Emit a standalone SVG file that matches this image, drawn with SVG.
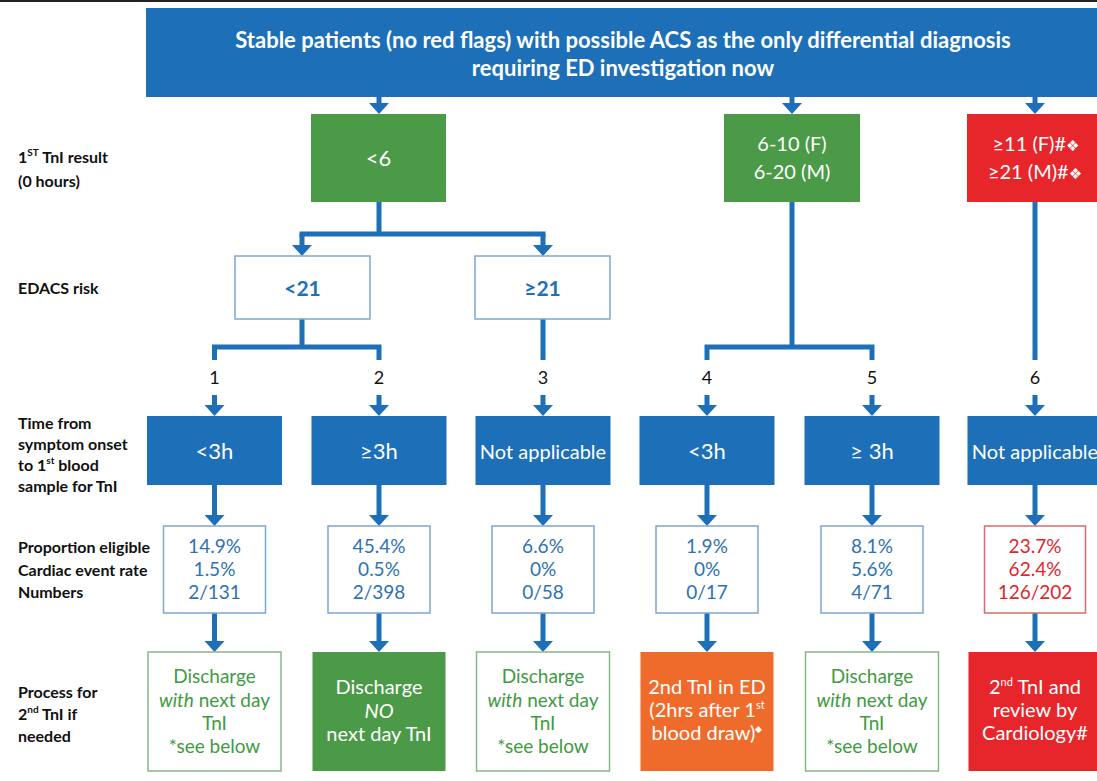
<svg xmlns="http://www.w3.org/2000/svg" width="1097" height="781" viewBox="0 0 1097 781">
  <style>
    .lbl { font-family: Lato, "Liberation Sans", sans-serif; font-weight: bold; font-size: 16px; fill: #111; }
    .num { font-family: Lato, "Liberation Sans", sans-serif; font-size: 18px; fill: #111; text-anchor: middle; }
    .wt { font-family: Lato, "Liberation Sans", sans-serif; font-size: 20px; fill: #fff; text-anchor: middle; }
    .bt { font-family: Lato, "Liberation Sans", sans-serif; font-size: 19px; fill: #2d72b5; text-anchor: middle; }
    .rt { font-family: Lato, "Liberation Sans", sans-serif; font-size: 19px; fill: #e0262b; text-anchor: middle; }
    .gt { font-family: Lato, "Liberation Sans", sans-serif; font-size: 19px; fill: #3f9a42; text-anchor: middle; }
    .head { font-family: Lato, "Liberation Sans", sans-serif; font-weight: bold; font-size: 22px; fill: #fff; text-anchor: middle; }
    .edacs { font-family: Lato, "Liberation Sans", sans-serif; font-weight: bold; font-size: 21px; fill: #1f70b8; text-anchor: middle; }
    .big { font-size: 22px; }
    .blue { fill: #1d6fb8; }
    .green { fill: #4b9a47; }
    .red { fill: #e6262b; }
    .orange { fill: #ef6b2c; }
    .outB { fill: #fff; stroke: #7ea6d2; stroke-width: 1.5; }
    .outG { fill: #fff; stroke: #86b886; stroke-width: 1.5; }
    .outR { fill: #fff; stroke: #dc6a6a; stroke-width: 1.5; }
    .wire { fill: none; stroke: #1d6fb8; stroke-width: 5; }
    .arr { fill: none; stroke: #1d6fb8; stroke-width: 5; marker-end: url(#head); }
  </style>
  <defs>
    <marker id="head" markerUnits="userSpaceOnUse" markerWidth="11" markerHeight="20" refX="0" refY="10" orient="auto">
      <path d="M0,0 L11,10 L0,20 z" fill="#1d6fb8"/>
    </marker>
  </defs>

  <rect width="1097" height="781" fill="#fff"/>
  <line x1="0" y1="1" x2="1097" y2="1" stroke="#222" stroke-width="2"/>

  <!-- row labels -->
  <g id="row-labels">
    <text class="lbl" x="18" y="163">1<tspan font-size="10" dy="-7">ST</tspan><tspan dy="7"> TnI result</tspan></text>
    <text class="lbl" x="18" y="187">(0 hours)</text>
    <text class="lbl" x="18" y="294">EDACS risk</text>
    <text class="lbl" x="18" y="429">Time from</text>
    <text class="lbl" x="18" y="450">symptom onset</text>
    <text class="lbl" x="18" y="471">to 1<tspan font-size="10" dy="-7">st</tspan><tspan dy="7"> blood</tspan></text>
    <text class="lbl" x="18" y="492">sample for TnI</text>
    <text class="lbl" x="18" y="553">Proportion eligible</text>
    <text class="lbl" x="18" y="576">Cardiac event rate</text>
    <text class="lbl" x="18" y="598">Numbers</text>
    <text class="lbl" x="18" y="698">Process for</text>
    <text class="lbl" x="18" y="720">2<tspan font-size="10" dy="-7">nd</tspan><tspan dy="7"> TnI if</tspan></text>
    <text class="lbl" x="18" y="742">needed</text>
  </g>

  <!-- connectors -->
  <g id="connectors">
    <path class="arr" d="M379,97 V103"/>
    <path class="arr" d="M792,97 V103"/>
    <path class="arr" d="M1035,97 V103"/>

    <path class="wire" d="M379,202 V234 M299.5,234 H545.5"/>
    <path class="arr" d="M302,234 V245"/>
    <path class="arr" d="M543,234 V245"/>

    <path class="wire" d="M302,319 V347 M212,347 H381.5 M214.5,347 V360 M379,347 V360"/>
    <path class="wire" d="M543,319 V360"/>
    <path class="wire" d="M792,202 V347 M704.5,347 H874.5 M707,347 V360 M872,347 V360"/>
    <path class="wire" d="M1035,202 V360"/>

    <path class="arr" d="M214.5,395 V405"/>
    <path class="arr" d="M379,395 V405"/>
    <path class="arr" d="M543,395 V405"/>
    <path class="arr" d="M707,395 V405"/>
    <path class="arr" d="M872,395 V405"/>
    <path class="arr" d="M1035,395 V405"/>

    <path class="arr" d="M214.5,485 V515"/>
    <path class="arr" d="M379,485 V515"/>
    <path class="arr" d="M543,485 V515"/>
    <path class="arr" d="M707,485 V515"/>
    <path class="arr" d="M872,485 V515"/>
    <path class="arr" d="M1035,485 V515"/>

    <path class="arr" d="M214.5,613 V641"/>
    <path class="arr" d="M379,613 V641"/>
    <path class="arr" d="M543,613 V641"/>
    <path class="arr" d="M707,613 V641"/>
    <path class="arr" d="M872,613 V641"/>
    <path class="arr" d="M1035,613 V641"/>
  </g>

  <!-- top entry box -->
  <g id="entry">
    <rect class="blue" x="146" y="8" width="960" height="89"/>
    <text class="head" x="623" y="48">Stable patients (no red flags) with possible ACS as the only differential diagnosis</text>
    <text class="head" x="623" y="76">requiring ED investigation now</text>
  </g>

  <!-- first troponin result -->
  <g id="tni-low">
    <rect class="green" x="311" y="114" width="135" height="88"/>
    <text class="wt big" x="378.5" y="166">&lt;6</text>
  </g>
  <g id="tni-mid">
    <rect class="green" x="724" y="114" width="136" height="88"/>
    <text class="wt" x="792" y="151">6-10 (F)</text>
    <text class="wt" x="792" y="179">6-20 (M)</text>
  </g>
  <g id="tni-high">
    <rect class="red" x="967" y="114" width="140" height="88"/>
    <text class="wt" x="1036" y="151">≥11 (F)#<tspan font-family="'DejaVu Sans', sans-serif" font-size="15">❖</tspan></text>
    <text class="wt" x="1035" y="179">≥21 (M)#<tspan font-family="'DejaVu Sans', sans-serif" font-size="15">❖</tspan></text>
  </g>

  <!-- EDACS risk -->
  <g id="edacs-low">
    <rect class="outB" x="235" y="256" width="135" height="63"/>
    <text class="edacs" x="302.5" y="296">&lt;21</text>
  </g>
  <g id="edacs-high">
    <rect class="outB" x="475" y="256" width="135" height="63"/>
    <text class="edacs" x="542.5" y="296">≥21</text>
  </g>

  <!-- pathway numbers -->
  <g id="pathway-numbers">
    <text class="num" x="214.5" y="384">1</text>
    <text class="num" x="379" y="384">2</text>
    <text class="num" x="543" y="384">3</text>
    <text class="num" x="707" y="384">4</text>
    <text class="num" x="872" y="384">5</text>
    <text class="num" x="1035" y="384">6</text>
  </g>

  <!-- time from symptom onset -->
  <g id="time-1">
    <rect class="blue" x="147" y="416" width="135" height="69"/>
    <text class="wt big" x="214.5" y="459">&lt;3h</text>
  </g>
  <g id="time-2">
    <rect class="blue" x="311.5" y="416" width="135" height="69"/>
    <text class="wt big" x="379" y="459">≥3h</text>
  </g>
  <g id="time-3">
    <rect class="blue" x="475.5" y="416" width="135" height="69"/>
    <text class="wt" x="543" y="459">Not applicable</text>
  </g>
  <g id="time-4">
    <rect class="blue" x="639.5" y="416" width="135" height="69"/>
    <text class="wt big" x="707" y="459">&lt;3h</text>
  </g>
  <g id="time-5">
    <rect class="blue" x="804.5" y="416" width="135" height="69"/>
    <text class="wt big" x="872" y="459">≥ 3h</text>
  </g>
  <g id="time-6">
    <rect class="blue" x="967.5" y="416" width="135" height="69"/>
    <text class="wt" x="1035" y="459">Not applicable</text>
  </g>

  <!-- proportion / event rate / numbers -->
  <g id="stats-1">
    <rect class="outB" x="163.5" y="526" width="102" height="87"/>
    <text class="bt" x="214.5" y="553">14.9%</text>
    <text class="bt" x="214.5" y="576">1.5%</text>
    <text class="bt" x="214.5" y="599">2/131</text>
  </g>
  <g id="stats-2">
    <rect class="outB" x="328" y="526" width="102" height="87"/>
    <text class="bt" x="379" y="553">45.4%</text>
    <text class="bt" x="379" y="576">0.5%</text>
    <text class="bt" x="379" y="599">2/398</text>
  </g>
  <g id="stats-3">
    <rect class="outB" x="492" y="526" width="102" height="87"/>
    <text class="bt" x="543" y="553">6.6%</text>
    <text class="bt" x="543" y="576">0%</text>
    <text class="bt" x="543" y="599">0/58</text>
  </g>
  <g id="stats-4">
    <rect class="outB" x="656" y="526" width="102" height="87"/>
    <text class="bt" x="707" y="553">1.9%</text>
    <text class="bt" x="707" y="576">0%</text>
    <text class="bt" x="707" y="599">0/17</text>
  </g>
  <g id="stats-5">
    <rect class="outB" x="821" y="526" width="102" height="87"/>
    <text class="bt" x="872" y="553">8.1%</text>
    <text class="bt" x="872" y="576">5.6%</text>
    <text class="bt" x="872" y="599">4/71</text>
  </g>
  <g id="stats-6">
    <rect class="outR" x="984.5" y="526" width="101" height="87"/>
    <text class="rt" x="1035" y="553">23.7%</text>
    <text class="rt" x="1035" y="576">62.4%</text>
    <text class="rt" x="1035" y="599">126/202</text>
  </g>

  <!-- process for second troponin -->
  <g id="process-1">
    <rect class="outG" x="148" y="652" width="133" height="119"/>
    <text class="gt" x="214.5" y="683">Discharge</text>
    <text class="gt" x="214.5" y="707"><tspan font-style="italic">with</tspan> next day</text>
    <text class="gt" x="214.5" y="730">TnI</text>
    <text class="gt" x="214.5" y="753">*see below</text>
  </g>
  <g id="process-2">
    <rect class="green" x="312.5" y="652" width="133" height="119"/>
    <text class="wt" x="379" y="694">Discharge</text>
    <text class="wt" x="379" y="718" font-style="italic">NO</text>
    <text class="wt" x="379" y="741">next day TnI</text>
  </g>
  <g id="process-3">
    <rect class="outG" x="476.5" y="652" width="133" height="119"/>
    <text class="gt" x="543" y="683">Discharge</text>
    <text class="gt" x="543" y="707"><tspan font-style="italic">with</tspan> next day</text>
    <text class="gt" x="543" y="730">TnI</text>
    <text class="gt" x="543" y="753">*see below</text>
  </g>
  <g id="process-4">
    <rect class="orange" x="640.5" y="652" width="133" height="119"/>
    <text class="wt" x="707" y="694">2nd TnI in ED</text>
    <text class="wt" x="707" y="717">(2hrs after 1<tspan font-size="11" dy="-8">st</tspan></text>
    <text class="wt" x="707" y="740">blood draw)<tspan font-size="9" dy="-8">◆</tspan></text>
  </g>
  <g id="process-5">
    <rect class="outG" x="805.5" y="652" width="133" height="119"/>
    <text class="gt" x="872" y="683">Discharge</text>
    <text class="gt" x="872" y="707"><tspan font-style="italic">with</tspan> next day</text>
    <text class="gt" x="872" y="730">TnI</text>
    <text class="gt" x="872" y="753">*see below</text>
  </g>
  <g id="process-6">
    <rect class="red" x="968.5" y="652" width="133" height="119"/>
    <text class="wt" x="1035" y="694">2<tspan font-size="11" dy="-8">nd</tspan><tspan dy="8"> TnI and</tspan></text>
    <text class="wt" x="1035" y="717">review by</text>
    <text class="wt" x="1035" y="740">Cardiology#</text>
  </g>
</svg>
